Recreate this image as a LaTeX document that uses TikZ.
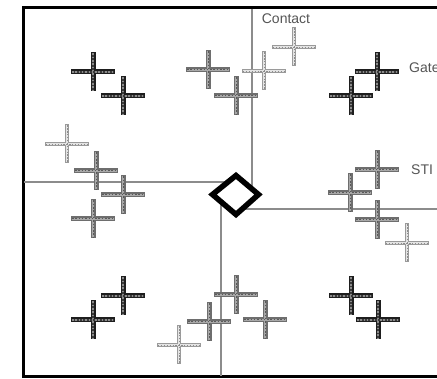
\documentclass[tikz,border=0pt]{standalone}
\usepackage{fontspec}
\setmainfont{Liberation Sans}
\definecolor{darkout}{HTML}{1E1E1E}
\definecolor{darkin}{HTML}{3A3A3A}
\definecolor{darkdot}{HTML}{8A8A8A}
\definecolor{grayout}{HTML}{6E6E6E}
\definecolor{grayin}{HTML}{A8A8A8}
\definecolor{graydot}{HTML}{5A5A5A}
\definecolor{lightout}{HTML}{9A9A9A}
\definecolor{lightin}{HTML}{E4E4E4}
\definecolor{lightdot}{HTML}{8C8C8C}
\definecolor{guidecol}{HTML}{8C8C8C}
\definecolor{labelcol}{HTML}{555555}
\tikzset{
  guide/.style={draw=guidecol, line width=1.1pt},
  framebox/.style={draw=black, line width=3pt},
  lbl/.style={text=labelcol, font=\fontsize{14}{14}\selectfont, inner sep=0pt},
  darkx/.pic={
    \draw[line width=5pt, darkout] (-22,0) -- (22,0) (0,-19.5) -- (0,19.5);
    \draw[line width=2pt, darkin] (-21,0) -- (21,0) (0,-18.5) -- (0,18.5);
    \draw[line width=1.2pt, darkdot, dash pattern=on 1.5pt off 1.8pt] (-21,0) -- (21,0) (0,-18.5) -- (0,18.5);
  },
  grayx/.pic={
    \draw[line width=5pt, grayout] (-22,0) -- (22,0) (0,-19.5) -- (0,19.5);
    \draw[line width=2.2pt, grayin] (-21,0) -- (21,0) (0,-18.5) -- (0,18.5);
    \draw[line width=1pt, graydot, dash pattern=on 1.5pt off 1.8pt] (-21,0) -- (21,0) (0,-18.5) -- (0,18.5);
  },
  lightx/.pic={
    \draw[line width=4.6pt, lightout] (-22,0) -- (22,0) (0,-19.5) -- (0,19.5);
    \draw[line width=2.4pt, lightin] (-21,0) -- (21,0) (0,-18.5) -- (0,18.5);
    \draw[line width=0.9pt, lightdot, dash pattern=on 1.3pt off 1.6pt] (-21,0) -- (21,0) (0,-18.5) -- (0,18.5);
  }
}
\begin{document}
\begin{tikzpicture}[x=1pt, y=-1pt]
\useasboundingbox (0,0) rectangle (437,379);
\fill[white] (0,0) rectangle (437,379);
% frame
\draw[framebox] (23,8) rectangle (460,377);
% guide lines
\draw[guide] (24,182) -- (236,182);
\draw[guide] (252,9) -- (252,194);
\draw[guide] (236,209) -- (437,209);
\draw[guide] (221,194) -- (221,376);
% diamond
\draw[line width=5.5pt, fill=white, line join=miter] (236,175.5) -- (258.5,194.5) -- (236,214.5) -- (212.5,194.5) -- cycle;
% labels
\node[lbl] (contact) at (286,19) {Contact};
\node[lbl, anchor=west] (gate) at (409,68) {Gate};
\node[lbl, anchor=west] (sti) at (411,170) {STI};
% dark crosses
\pic at (93,72) {darkx};
\pic at (123,96) {darkx};
\pic at (377,72) {darkx};
\pic at (351,96) {darkx};
\pic at (123,296) {darkx};
\pic at (93,320) {darkx};
\pic at (351,296) {darkx};
\pic at (378,320) {darkx};
% gray crosses
\pic at (96,171) {grayx};
\pic at (123,195) {grayx};
\pic at (93,219) {grayx};
\pic at (208,70) {grayx};
\pic at (236,96) {grayx};
\pic at (236,295) {grayx};
\pic at (265,320) {grayx};
\pic at (377,170) {grayx};
\pic at (350,193) {grayx};
\pic at (377,220) {grayx};
\pic at (209,322) {grayx};
% light crosses
\pic at (67,144) {lightx};
\pic at (294,47) {lightx};
\pic at (264,71) {lightx};
\pic at (407,243) {lightx};
\pic at (179,345) {lightx};
\end{tikzpicture}
\end{document}
